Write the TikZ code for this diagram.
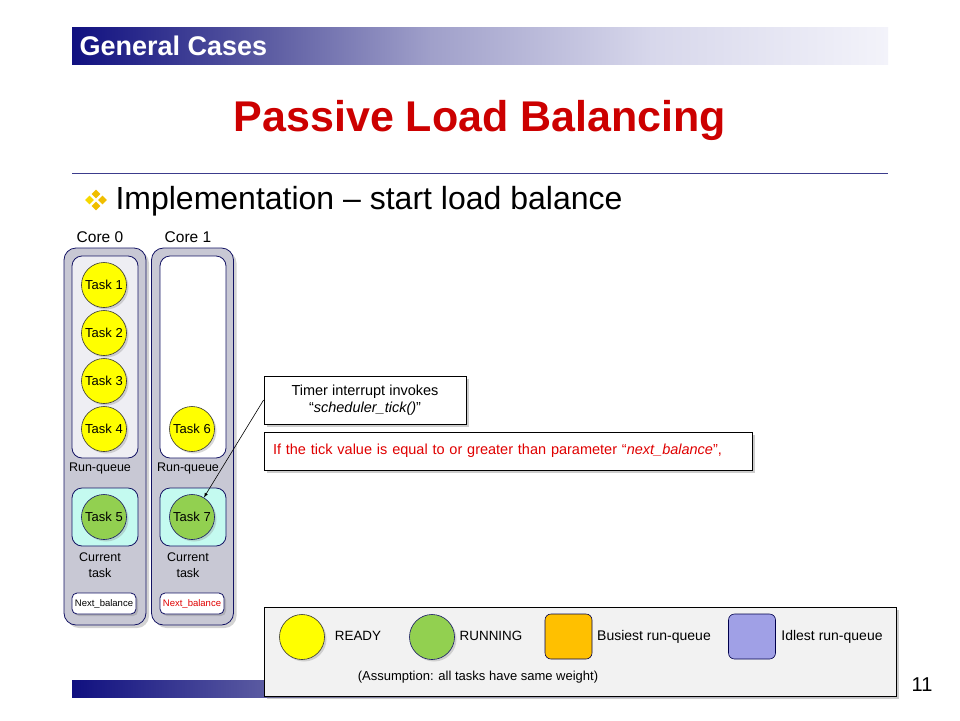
\documentclass[tikz,border=0pt]{standalone}
\usepackage{fontspec}
\setmainfont{Liberation Sans}
\usetikzlibrary{shapes.geometric}
\usetikzlibrary{shadows}
\pgfdeclarelayer{bglayer}
\pgfdeclarelayer{edgelayer}
\pgfdeclarelayer{nodelayer}
\pgfsetlayers{bglayer,edgelayer,nodelayer,main}
\definecolor{fadeA}{RGB}{16,16,128}
\definecolor{fadeB}{RGB}{92,92,162}
\definecolor{fadeC}{RGB}{160,160,202}
\definecolor{fadeD}{RGB}{215,215,235}
\definecolor{fadeE}{RGB}{243,243,250}
\definecolor{rulecol}{RGB}{60,60,140}
\definecolor{titlered}{RGB}{204,0,0}
\definecolor{notered}{RGB}{224,0,0}
\definecolor{coreedge}{RGB}{20,20,100}
\definecolor{coregray}{RGB}{200,200,212}
\definecolor{queuegray}{RGB}{238,238,243}
\definecolor{curcyan}{RGB}{196,250,240}
\definecolor{readyyellow}{RGB}{255,255,0}
\definecolor{rungreen}{RGB}{146,208,80}
\definecolor{busyorange}{RGB}{255,192,0}
\definecolor{idlelav}{RGB}{160,160,230}
\definecolor{bulletgold}{RGB}{240,190,0}
\definecolor{legendgray}{RGB}{242,242,242}
\pgfdeclarehorizontalshading{slidefade}{100bp}{color(0bp)=(fadeA); color(25bp)=(fadeA); color(37bp)=(fadeB); color(47bp)=(fadeC); color(60.5bp)=(fadeD); color(75bp)=(fadeE); color(100bp)=(fadeE)}
\tikzstyle{core}=[rectangle,rounded corners=12pt,draw=coreedge,line width=0.8pt,fill=coregray,minimum width=82pt,minimum height=377pt,drop shadow={shadow xshift=3pt,shadow yshift=-3pt,opacity=0.35}]
\tikzstyle{queue}=[rectangle,rounded corners=10pt,draw=coreedge,line width=0.8pt,minimum width=66pt,minimum height=202pt]
\tikzstyle{current}=[rectangle,rounded corners=10pt,draw=coreedge,line width=0.8pt,fill=curcyan,minimum width=66pt,minimum height=58pt]
\tikzstyle{balance}=[rectangle,rounded corners=5pt,draw=coreedge,line width=0.8pt,fill=white,minimum width=64pt,minimum height=21pt,inner sep=0pt,font=\fontsize{9.5}{11}\selectfont,drop shadow={shadow xshift=2pt,shadow yshift=-2pt,opacity=0.35}]
\tikzstyle{task}=[circle,draw=black!80,line width=0.6pt,fill=readyyellow,minimum size=45pt,inner sep=0pt,font=\fontsize{13}{15}\selectfont,drop shadow={shadow xshift=2pt,shadow yshift=-2pt,opacity=0.3}]
\tikzstyle{runtask}=[style=task,fill=rungreen,draw=coreedge]
\tikzstyle{label}=[font=\fontsize{12.5}{15.5}\selectfont,inner sep=0pt,align=center]
\tikzstyle{note}=[rectangle,draw=black,line width=0.8pt,fill=white,inner sep=0pt,font=\fontsize{14.5}{17}\selectfont,drop shadow={shadow xshift=3pt,shadow yshift=-3pt,opacity=0.4}]
\tikzstyle{legend}=[rectangle,draw=black,line width=0.8pt,fill=legendgray,minimum width=632pt,minimum height=89pt,drop shadow={shadow xshift=3pt,shadow yshift=-3pt,opacity=0.4}]
\tikzstyle{swatch}=[rectangle,rounded corners=6pt,draw=black!70!blue,line width=0.6pt,minimum width=47pt,minimum height=45pt]
\tikzstyle{gem}=[diamond,fill=bulletgold,minimum size=9pt,inner sep=0pt]
\tikzstyle{transition}=[-latex,draw=black,line width=0.6pt]

\begin{document}
\begin{tikzpicture}[x=1pt,y=-1pt]
	\useasboundingbox (0,0) rectangle (960,720);
	\begin{pgfonlayer}{bglayer}
		\shade [shading=slidefade] (72,27) rectangle (888,64);
		\shade [shading=slidefade] (72,680) rectangle (890,697);
		\draw [draw=rulecol, line width=1pt] (72,173) -- (888,173);
		\node [style=core] (0) at (105,436.5) {};
		\node [style=core] (1) at (192.5,436.5) {};
		\node [style=queue, fill=queuegray] (2) at (105,357) {};
		\node [style=queue, fill=white] (3) at (193,357) {};
		\node [style=current] (4) at (105,517) {};
		\node [style=current] (5) at (193,517) {};
		\node [style=legend] (6) at (580,651.5) {};
	\end{pgfonlayer}
	\begin{pgfonlayer}{nodelayer}
		\node [anchor=west, text=white, font=\fontsize{27}{30}\selectfont\bfseries] (7) at (76,46) {General Cases};
		\node [text=titlered, font=\fontsize{43}{48}\selectfont\bfseries] (8) at (480,120) {Passive Load Balancing};
		\node [style=gem] (9) at (96,194) {};
		\node [style=gem, fill=bulletgold!60!yellow] (10) at (89.5,200) {};
		\node [style=gem] (11) at (102.5,200) {};
		\node [style=gem] (12) at (96,206) {};
		\node [anchor=west, font=\fontsize{32}{36}\selectfont] (13) at (112,201) {Implementation -- start load balance};
		\node [style=label, font=\fontsize{15.5}{18}\selectfont] (14) at (100,237) {Core 0};
		\node [style=label, font=\fontsize{15.5}{18}\selectfont] (15) at (188,237) {Core 1};
		\node [style=task] (16) at (104,285) {Task 1};
		\node [style=task] (17) at (104,333) {Task 2};
		\node [style=task] (18) at (104,381) {Task 3};
		\node [style=task] (19) at (104,429) {Task 4};
		\node [style=task] (20) at (192,429) {Task 6};
		\node [style=label] (21) at (100,468) {Run-queue};
		\node [style=label] (22) at (188,468) {Run-queue};
		\node [style=runtask] (23) at (104,517) {Task 5};
		\node [style=runtask] (24) at (192,517) {Task 7};
		\node [style=label] (25) at (100,565) {Current\\task};
		\node [style=label] (26) at (188,565) {Current\\task};
		\node [style=balance] (27) at (104,603.5) {Next\_balance};
		\node [style=balance, text=notered] (28) at (192,603.5) {Next\_balance};
		\node [style=note, minimum width=202pt, minimum height=48pt, align=center] (29) at (365,400) {Timer interrupt invokes\\“\textit{scheduler\_tick()}”};
		\node [style=note, minimum height=38pt, text width=470pt, inner xsep=9pt, align=left, text=notered] (30) at (508,451) {If the tick value is equal to or greater than parameter “\textit{next\_balance}”,};
		\node [style=task, minimum size=45pt] (31) at (302,637) {};
		\node [style=label, font=\fontsize{13.4}{15}\selectfont] (32) at (358,636) {READY};
		\node [style=runtask] (33) at (432,637) {};
		\node [style=label, font=\fontsize{13.4}{15}\selectfont] (34) at (491,636) {RUNNING};
		\node [style=swatch, fill=busyorange] (35) at (568.5,636.5) {};
		\node [style=label, font=\fontsize{14}{16}\selectfont] (36) at (654,637) {Busiest run-queue};
		\node [style=swatch, fill=idlelav] (37) at (752,636.5) {};
		\node [style=label, font=\fontsize{14}{16}\selectfont] (38) at (832,637) {Idlest run-queue};
		\node [style=label, font=\fontsize{13}{15}\selectfont] (39) at (478,677) {(Assumption: all tasks have same weight)};
		\node [style=label, font=\fontsize{20}{22}\selectfont] (40) at (922,685) {11};
	\end{pgfonlayer}
	\begin{pgfonlayer}{edgelayer}
		\draw [style=transition] (29.west) to (24);
	\end{pgfonlayer}
\end{tikzpicture}
\end{document}
